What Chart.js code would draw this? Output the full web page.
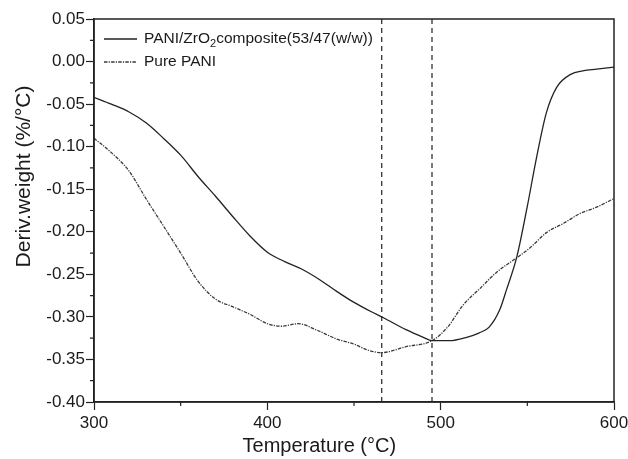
<!DOCTYPE html>
<html>
<head>
<meta charset="utf-8">
<script src="https://cdn.jsdelivr.net/npm/chart.js@4"></script>
<style>
    html, body { margin: 0; padding: 0; background: #fff; }
    #wrap { width: 628px; height: 459px; }
</style>
</head>
<body>
<div id="wrap"><canvas id="graph_dtg"></canvas></div>
<script>
// ############################## DTG PANI / PANI-ZrO2 ############################### //
const labelComposite = 'PANI/ZrO₂composite(53/47(w/w))';
const labelPani = 'Pure PANI';

// temperaturas (°C) y derivada del peso (%/°C)
const tempComposite = [300, 310, 320, 330, 340, 350, 360, 370, 380, 390, 400, 410, 420, 430, 440, 450, 460, 467,
    480, 490, 495, 505, 515, 522, 528, 534, 538, 544, 550, 555, 561, 567, 575, 582, 590, 600];
const composite = [-0.042, -0.050, -0.059, -0.072, -0.090, -0.110, -0.135, -0.158, -0.182, -0.205, -0.224, -0.235,
    -0.244, -0.256, -0.270, -0.283, -0.294, -0.301, -0.315, -0.324, -0.328, -0.328, -0.324, -0.319, -0.312, -0.292,
    -0.268, -0.229, -0.170, -0.116, -0.060, -0.030, -0.015, -0.011, -0.009, -0.0065];

const tempPani = [300, 310, 320, 330, 340, 350, 360, 370, 380, 390, 400, 408, 418, 428, 440, 450, 458, 466,
    480, 495, 504, 513, 523, 532, 545, 552, 561, 571, 580, 590, 600];
const pani = [-0.090, -0.107, -0.128, -0.161, -0.193, -0.225, -0.258, -0.279, -0.288, -0.297, -0.308, -0.311,
    -0.308, -0.315, -0.326, -0.332, -0.339, -0.342, -0.335, -0.328, -0.312, -0.286, -0.266, -0.248, -0.229,
    -0.218, -0.201, -0.190, -0.179, -0.171, -0.161];

// lineas verticales (picos)
const peakTemps = [466, 495];

const xMin = 300, xMax = 600;
const yMin = -0.40, yMax = 0.05;
const xTitle = 'Temperature (°C)';
const yTitle = 'Deriv.weight (%/°C)';

(function(){
    const ink = '#222';
    const font = 'Liberation Sans, Arial, Helvetica, sans-serif';

    const datasets = [{
        label: labelComposite,
        data: tempComposite.map((t, i) => ({x: t, y: composite[i]})),
        borderColor: ink,
        borderWidth: 1.3,
        pointRadius: 0,
        cubicInterpolationMode: 'monotone'
    },{
        label: labelPani,
        data: tempPani.map((t, i) => ({x: t, y: pani[i]})),
        borderColor: '#3a3a3a',
        borderWidth: 1.3,
        borderDash: [3.5, 1.2, 1.2, 1.2],
        pointRadius: 0,
        cubicInterpolationMode: 'monotone'
    }];

    peakTemps.forEach(function(t) {
        datasets.push({
            label: '',
            peak: true,
            data: [{x: t, y: yMin}, {x: t, y: yMax}],
            borderColor: ink,
            borderWidth: 1.2,
            borderDash: [5, 4],
            pointRadius: 0
        });
    });

    // texto con subindice (ZrO₂)
    function drawLabel(ctx, text, x, y) {
        const parts = text.split('₂');
        parts.forEach(function(p, i) {
            ctx.font = '15.5px ' + font;
            ctx.fillText(p, x, y);
            x += ctx.measureText(p).width;
            if (i < parts.length - 1) {
                ctx.font = '11px ' + font;
                ctx.fillText('2', x, y + 5);
                x += ctx.measureText('2').width;
            }
        });
    }

    // marco, ticks menores, leyenda y titulos
    const extras = {
        id: 'extras',
        afterDraw(chart) {
            const ctx = chart.ctx;
            const a = chart.chartArea;
            const sx = chart.scales.x, sy = chart.scales.y;
            ctx.save();
            ctx.strokeStyle = ink;
            ctx.lineWidth = 1.5;
            ctx.strokeRect(a.left, a.top, a.right - a.left, a.bottom - a.top);

            // ticks menores
            ctx.lineWidth = 1.2;
            ctx.beginPath();
            for (let v = xMin + 50; v < xMax; v += 100) {
                const px = sx.getPixelForValue(v);
                ctx.moveTo(px, a.bottom);
                ctx.lineTo(px, a.bottom + 4);
            }
            for (let k = 1; k < 18; k += 2) {
                const py = sy.getPixelForValue(yMin + k * 0.025);
                ctx.moveTo(a.left, py);
                ctx.lineTo(a.left - 4, py);
            }
            ctx.stroke();

            // leyenda
            ctx.fillStyle = '#1a1a1a';
            ctx.textBaseline = 'middle';
            chart.data.datasets.filter(d => !d.peak).forEach(function(d, i) {
                const y = a.top + 20 + i * 23;
                ctx.beginPath();
                ctx.setLineDash(d.borderDash || []);
                ctx.lineWidth = 1.3;
                ctx.strokeStyle = d.borderColor;
                ctx.moveTo(a.left + 10, y);
                ctx.lineTo(a.left + 43, y);
                ctx.stroke();
                ctx.setLineDash([]);
                drawLabel(ctx, d.label, a.left + 50, y);
            });

            // titulos de ejes
            ctx.font = '20px ' + font;
            ctx.textAlign = 'center';
            ctx.textBaseline = 'alphabetic';
            ctx.fillText(xTitle, sx.getPixelForValue(430), 452);
            ctx.translate(30, sy.getPixelForValue(-0.135));
            ctx.rotate(-Math.PI / 2);
            ctx.font = '21px ' + font;
            ctx.fillText(yTitle, 0, 0);
            ctx.restore();
        }
    };

    const config = {
        type: 'line',
        data: { datasets: datasets },
        options: {
            responsive: true,
            maintainAspectRatio: false,
            animation: false,
            layout: { padding: { left: 34, right: 14, top: 19, bottom: 27 } },
            scales: {
                x: {
                    type: 'linear',
                    min: xMin,
                    max: xMax,
                    afterFit: function(scale) {
                        scale.height = 30;
                        scale.paddingRight = 0;
                        scale.paddingLeft = 0;
                    },
                    border: { color: ink, width: 1.5 },
                    grid: { drawOnChartArea: false, tickLength: 8, tickWidth: 1.2,
                        tickColor: c => (c.tick && c.tick.value % 100 === 0) ? ink : 'transparent' },
                    ticks: {
                        stepSize: 50,
                        autoSkip: false,
                        maxRotation: 0,
                        padding: 3,
                        color: '#1a1a1a',
                        font: { family: font, size: 17 },
                        callback: v => v % 100 === 0 ? v : ''
                    }
                },
                y: {
                    min: yMin,
                    max: yMax,
                    afterFit: function(scale) { scale.width = 60; },
                    border: { color: ink, width: 1.5 },
                    grid: { drawOnChartArea: false, tickLength: 8, tickWidth: 1.2,
                        tickColor: function(c) {
                            const v = c.tick ? c.tick.value * 20 : 0.5;
                            return Math.abs(v - Math.round(v)) < 1e-6 ? ink : 'transparent';
                        } },
                    ticks: {
                        stepSize: 0.025,
                        autoSkip: false,
                        padding: 1,
                        color: '#1a1a1a',
                        font: { family: font, size: 17 },
                        callback: function(value) {
                            const v = value * 20;
                            if (Math.abs(v - Math.round(v)) > 1e-6) return '';
                            return Math.abs(value) < 1e-9 ? '0.00' : value.toFixed(2);
                        }
                    }
                }
            },
            plugins: {
                legend: { display: false },
                tooltip: { enabled: false }
            }
        },
        plugins: [extras]
    };

    const dtg_chart = new Chart(document.getElementById('graph_dtg'), config);
})();
// ###################################################################################### //
</script>
</body>
</html>
